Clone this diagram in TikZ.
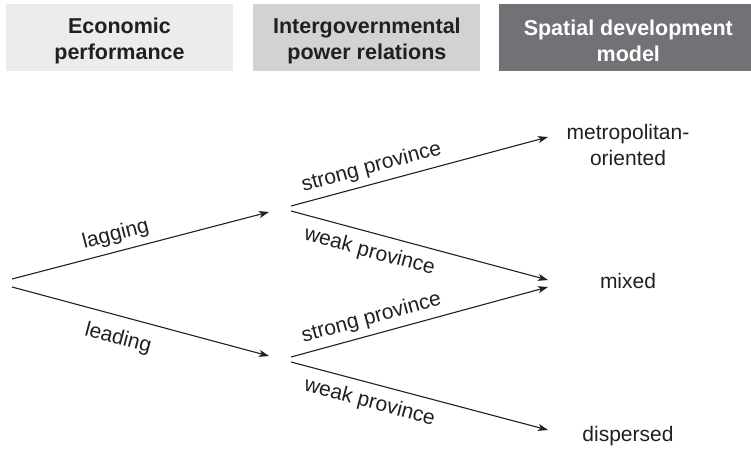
\documentclass[tikz,border=0pt]{standalone}
\usepackage{xcolor}
\usepackage{fontspec}
\setmainfont{Liberation Sans}
\usepackage{tikz}
\usetikzlibrary{calc,positioning,arrows.meta}

\definecolor{ink}{HTML}{231F20}
\definecolor{boxlight}{HTML}{ECECEC}
\definecolor{boxmid}{HTML}{D1D2D4}
\definecolor{boxdark}{HTML}{727276}

\begin{document}
\begin{tikzpicture}[x=1pt,y=-1pt,>={Stealth[length=10pt,width=7pt,inset=2.5pt]},
    font=\fontsize{21pt}{26pt}\selectfont,text=ink,
    head/.style={minimum height=67pt,inner sep=0pt},
    headtext/.style={align=center,font=\fontsize{21.5pt}{26pt}\selectfont\bfseries},
    branch/.style={->,draw=ink,line width=1.1pt},
    lbl/.style={sloped,inner sep=6pt}]
      \useasboundingbox (0,0) rectangle (751,449);

      % column headings
      \node[head,fill=boxlight,minimum width=227pt] (econ) at (119.5,37.5) {};
      \node[head,fill=boxmid,minimum width=227pt,right=20pt of econ] (power) {};
      \node[head,fill=boxdark,minimum width=253pt,right=18pt of power] (model) {};
      \node[headtext] (econT) at ([yshift=-3pt]econ) {Economic\\performance};
      \node[headtext] (powerT) at ([yshift=-3pt]power) {Intergovernmental\\power relations};
      \node[headtext,text=white] (modelT) at ([yshift=-3pt,xshift=3pt]model) {Spatial development\\model};

      % outcomes
      \node[align=center] (metro) at (628,145) {metropolitan-\\oriented};
      \node (mixed) at (628,281) {mixed};
      \node (disp) at (628,436) {dispersed};

      \coordinate (lagS) at (12,279);
      \coordinate (leadS) at (12,287);
      \coordinate (lagE) at (269,212);
      \coordinate (leadE) at (269,356);
      \coordinate (upStrong) at (291,206);
      \coordinate (upWeak) at (291,211);
      \coordinate (loStrong) at (291,357);
      \coordinate (loWeak) at (291,362);
      \coordinate (metroIn) at (548,137);
      \coordinate (mixedInA) at (548,280);
      \coordinate (mixedInB) at (548,287);
      \coordinate (dispIn) at (548,430);

      \draw[branch] (lagS) -- node[lbl,above,pos=0.42]{lagging} (lagE);
      \draw[branch] (leadS) -- node[lbl,below,pos=0.435,inner sep=12pt]{leading} (leadE);
      \draw[branch] (upStrong) -- node[lbl,above,pos=0.33]{strong province} (metroIn);
      \draw[branch] (upWeak) -- node[lbl,below,pos=0.325,inner sep=9pt]{weak province} (mixedInA);
      \draw[branch] (loStrong) -- node[lbl,above,pos=0.33]{strong province} (mixedInB);
      \draw[branch] (loWeak) -- node[lbl,below,pos=0.325,inner sep=9pt]{weak province} (dispIn);
 \end{tikzpicture}
\end{document}
